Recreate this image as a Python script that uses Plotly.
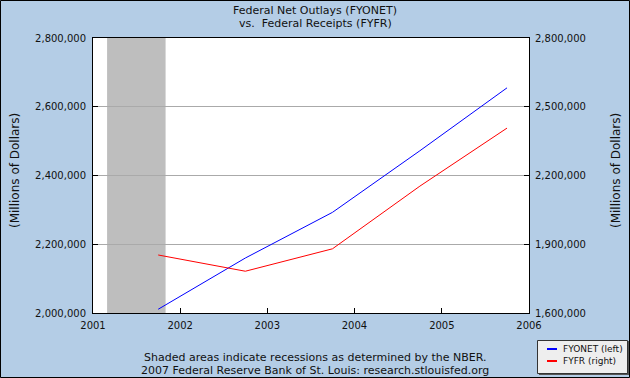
import plotly.graph_objects as go

dates = ["2001-10-01", "2002-10-01", "2003-10-01", "2004-10-01", "2005-10-01"]
fyonet = [2010894, 2159899, 2292841, 2471957, 2655050]
fyfr = [1853136, 1782314, 1880114, 2153611, 2406869]
recession = ("2001-03-01", "2001-11-01")
x_ticks = ["2001", "2002", "2003", "2004", "2005", "2006"]
left_ticks = [2000000, 2200000, 2400000, 2600000, 2800000]
right_ticks = [1600000, 1900000, 2200000, 2500000, 2800000]
series_names = ["FYONET (left)", "FYFR (right)"]
series_colors = ["#0000FF", "#FF0000"]

W, H = 630, 378
L, R, T, B = 93, 101, 38, 65
PW, PH = W - L - R, H - T - B

def px(x):
    return (x - L) / PW

def py(y):
    return (H - B - y) / PH

BG = "#B4CDE6"
FONT = "DejaVu Sans"

fig = go.Figure()
fig.add_trace(go.Scatter(x=dates, y=fyonet, mode="lines", name=series_names[0],
                         line=dict(color=series_colors[0], width=1), yaxis="y"))
fig.add_trace(go.Scatter(x=dates, y=fyfr, mode="lines", name=series_names[1],
                         line=dict(color=series_colors[1], width=1), yaxis="y2"))

fig.add_shape(type="rect", xref="x", yref="paper", x0=recession[0], x1=recession[1],
              y0=0, y1=1, fillcolor="#BEBEBE", line_width=0, layer="between")

# outer border
fig.add_shape(type="rect", xref="paper", yref="paper",
              x0=px(0.5), x1=px(W - 0.5), y0=py(H - 0.5), y1=py(0.5),
              line=dict(color="black", width=1), fillcolor="rgba(0,0,0,0)", layer="above")

# legend box (manual) with shadow
fig.add_shape(type="rect", xref="paper", yref="paper",
              x0=px(539), x1=px(629), y0=py(375), y1=py(341),
              line=dict(width=0), fillcolor="#555555", layer="above")
fig.add_shape(type="rect", xref="paper", yref="paper",
              x0=px(537.5), x1=px(627.5), y0=py(373.5), y1=py(340.5),
              line=dict(color="#333333", width=1), fillcolor="#EEEEEE", layer="above")
for i, (nm, col) in enumerate(zip(series_names, series_colors)):
    yy = 349 + 12 * i
    fig.add_shape(type="line", xref="paper", yref="paper",
                  x0=px(547), x1=px(557), y0=py(yy), y1=py(yy),
                  line=dict(color=col, width=2), layer="above")
    fig.add_annotation(text=nm, x=px(561), y=py(yy), xref="paper", yref="paper",
                       showarrow=False, xanchor="left", yanchor="middle",
                       font=dict(size=9, family=FONT, color="#111111"))

fig.update_layout(
    width=W, height=H,
    margin=dict(l=L, r=R, t=T, b=B, pad=0, autoexpand=False),
    paper_bgcolor=BG, plot_bgcolor="white",
    font=dict(family=FONT, size=10, color="#111111"),
    showlegend=False,
    xaxis=dict(type="date", range=["2001-01-01", "2006-01-01"],
               tickvals=[f"{y}-01-01" for y in x_ticks], ticktext=x_ticks,
               ticks="inside", ticklen=5, tickcolor="black", ticklabelstandoff=3,
               showline=True, linecolor="black", linewidth=1, mirror=True,
               showgrid=False, zeroline=False, tickfont=dict(size=10)),
    yaxis=dict(range=[2000000, 2800000], tickvals=left_ticks, tickformat=",d",
               ticks="inside", ticklen=5, tickcolor="black", ticklabelstandoff=4,
               showline=True, linecolor="black", linewidth=1,
               showgrid=True, gridcolor="#AAAAAA", gridwidth=1, zeroline=False,
               tickfont=dict(size=10)),
    yaxis2=dict(range=[1600000, 2800000], tickvals=right_ticks, tickformat=",d",
                overlaying="y", side="right",
                ticks="inside", ticklen=5, tickcolor="black", ticklabelstandoff=3,
                showline=True, linecolor="black", linewidth=1,
                showgrid=False, zeroline=False, tickfont=dict(size=10)),
)

ann = [
    dict(text="Federal Net Outlays (FYONET)", x=px(315), y=py(10), size=11),
    dict(text="vs.  Federal Receipts (FYFR)", x=px(315), y=py(24), size=11),
    dict(text="Shaded areas indicate recessions as determined by the NBER.", x=px(315), y=py(357), size=11),
    dict(text="2007 Federal Reserve Bank of St. Louis: research.stlouisfed.org", x=px(315), y=py(370), size=11),
]
for a in ann:
    fig.add_annotation(text=a["text"], x=a["x"], y=a["y"], xref="paper", yref="paper",
                       showarrow=False, xanchor="center", yanchor="middle",
                       font=dict(size=a["size"], family=FONT, color="#111111"))

for xp in (15, 616):
    fig.add_annotation(text="(Millions of Dollars)", x=px(xp), y=py(171), xref="paper", yref="paper",
                       showarrow=False, textangle=-90, xanchor="center", yanchor="middle",
                       font=dict(size=12, family=FONT, color="#111111"))

fig.write_html("out.html", config={"displayModeBar": False},
               post_script="document.body.style.margin='0px';document.body.style.overflow='hidden';")
